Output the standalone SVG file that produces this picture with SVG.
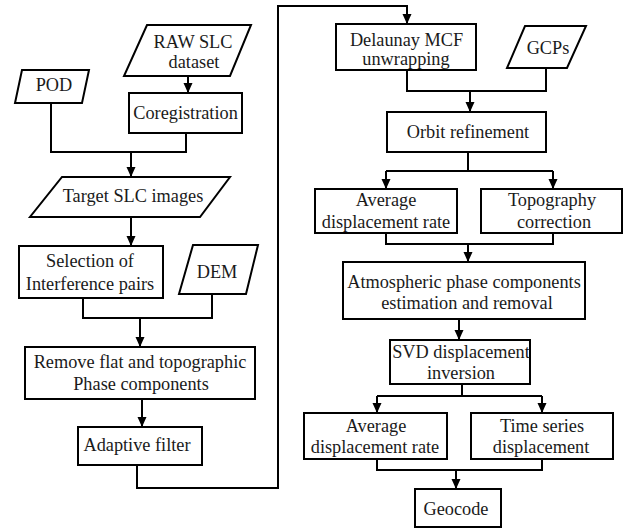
<svg xmlns="http://www.w3.org/2000/svg" width="634" height="529" viewBox="0 0 634 529">
<style>
.n{fill:#fff;stroke:#000;stroke-width:2}
.t{font-family:'Liberation Serif','Times New Roman','DejaVu Serif',serif;font-size:18.3px;fill:#1a1a1a;text-anchor:middle}
.c{fill:none;stroke:#000;stroke-width:2}
</style>
<defs>
<marker id="ah" markerUnits="userSpaceOnUse" markerWidth="10" markerHeight="10" viewBox="0 0 10 10" refX="10" refY="5" orient="auto">
<path d="M0,0.5 L10,5 L0,9.5 Z" fill="#000"/>
</marker>
</defs>
<rect width="634" height="529" fill="#fff"/>
<g id="connectors">
<path class="c" d="M188,76 V93" marker-end="url(#ah)"/>
<path class="c" d="M51,103 V152 H186 V133"/>
<path class="c" d="M131,152 V177" marker-end="url(#ah)"/>
<path class="c" d="M131,217 V246" marker-end="url(#ah)"/>
<path class="c" d="M83,298 V318 H212 V294"/>
<path class="c" d="M140,318 V347" marker-end="url(#ah)"/>
<path class="c" d="M142,399 V427" marker-end="url(#ah)"/>
<path class="c" d="M137,465 V488 H278 V6 H407 V24" marker-end="url(#ah)"/>
<path class="c" d="M407,70 V91 H546 V68"/>
<path class="c" d="M470,91 V112" marker-end="url(#ah)"/>
<path class="c" d="M468,152 V171"/>
<path class="c" d="M386,171 H553"/>
<path class="c" d="M386,171 V189" marker-end="url(#ah)"/>
<path class="c" d="M553,171 V189" marker-end="url(#ah)"/>
<path class="c" d="M386,233 V244 H553 V233"/>
<path class="c" d="M468,244 V262" marker-end="url(#ah)"/>
<path class="c" d="M459,319 V340" marker-end="url(#ah)"/>
<path class="c" d="M462,384 V396"/>
<path class="c" d="M377,396 H542"/>
<path class="c" d="M377,396 V413" marker-end="url(#ah)"/>
<path class="c" d="M542,396 V413" marker-end="url(#ah)"/>
<path class="c" d="M377,459 V470 H542 V459"/>
<path class="c" d="M456,470 V489" marker-end="url(#ah)"/>
</g>
<g id="raw">
<polygon class="n" points="147,25 251,25 230,76 124,76"/>
<text class="t" x="193" y="48">RAW SLC</text>
<text class="t" x="194" y="68">dataset</text>
</g>
<g id="pod">
<polygon class="n" points="22,70 89,70 82,103 15,103"/>
<text class="t" x="54" y="91">POD</text>
</g>
<g id="coreg">
<rect class="n" x="129" y="93" width="113" height="40"/>
<text class="t" x="185.5" y="119">Coregistration</text>
</g>
<g id="target">
<polygon class="n" points="62,177 230,177 200,217 30,217"/>
<text class="t" x="133" y="202">Target SLC images</text>
</g>
<g id="selection">
<rect class="n" x="19" y="246" width="144" height="52"/>
<text class="t" x="90" y="267">Selection of</text>
<text class="t" x="90" y="290">Interference pairs</text>
</g>
<g id="dem">
<polygon class="n" points="193,245 258,245 246,294 179,294"/>
<text class="t" x="217" y="278">DEM</text>
</g>
<g id="remove">
<rect class="n" x="25" y="347" width="230" height="52"/>
<text class="t" x="140" y="368">Remove flat and topographic</text>
<text class="t" x="141" y="390">Phase components</text>
</g>
<g id="adaptive">
<rect class="n" x="78" y="427" width="124" height="38"/>
<text class="t" x="137" y="451">Adaptive filter</text>
</g>
<g id="delaunay">
<rect class="n" x="336" y="24" width="140" height="46"/>
<text class="t" x="406.5" y="45.5">Delaunay MCF</text>
<text class="t" x="406" y="64.5">unwrapping</text>
</g>
<g id="gcps">
<polygon class="n" points="525,26 586,26 567,68 507,68"/>
<text class="t" x="548" y="54">GCPs</text>
</g>
<g id="orbit">
<rect class="n" x="387" y="112" width="159" height="40"/>
<text class="t" x="468" y="138">Orbit refinement</text>
</g>
<g id="avg1">
<rect class="n" x="315" y="189" width="142" height="44"/>
<text class="t" x="386" y="206">Average</text>
<text class="t" x="386" y="228">displacement rate</text>
</g>
<g id="topo">
<rect class="n" x="481" y="189" width="141" height="44"/>
<text class="t" x="552" y="206">Topography</text>
<text class="t" x="554" y="228">correction</text>
</g>
<g id="atmos">
<rect class="n" x="343" y="262" width="242" height="57"/>
<text class="t" x="464" y="288">Atmospheric phase components</text>
<text class="t" x="467" y="309">estimation and removal</text>
</g>
<g id="svd">
<rect class="n" x="390" y="340" width="140" height="44"/>
<text class="t" x="461" y="358">SVD displacement</text>
<text class="t" x="461" y="379">inversion</text>
</g>
<g id="avg2">
<rect class="n" x="304" y="413" width="143" height="46"/>
<text class="t" x="376" y="432">Average</text>
<text class="t" x="375" y="453">displacement rate</text>
</g>
<g id="timeseries">
<rect class="n" x="471" y="413" width="142" height="46"/>
<text class="t" x="542" y="432">Time series</text>
<text class="t" x="541" y="453">displacement</text>
</g>
<g id="geocode">
<rect class="n" x="415" y="489" width="86" height="38"/>
<text class="t" x="456" y="515">Geocode</text>
</g>
</svg>
